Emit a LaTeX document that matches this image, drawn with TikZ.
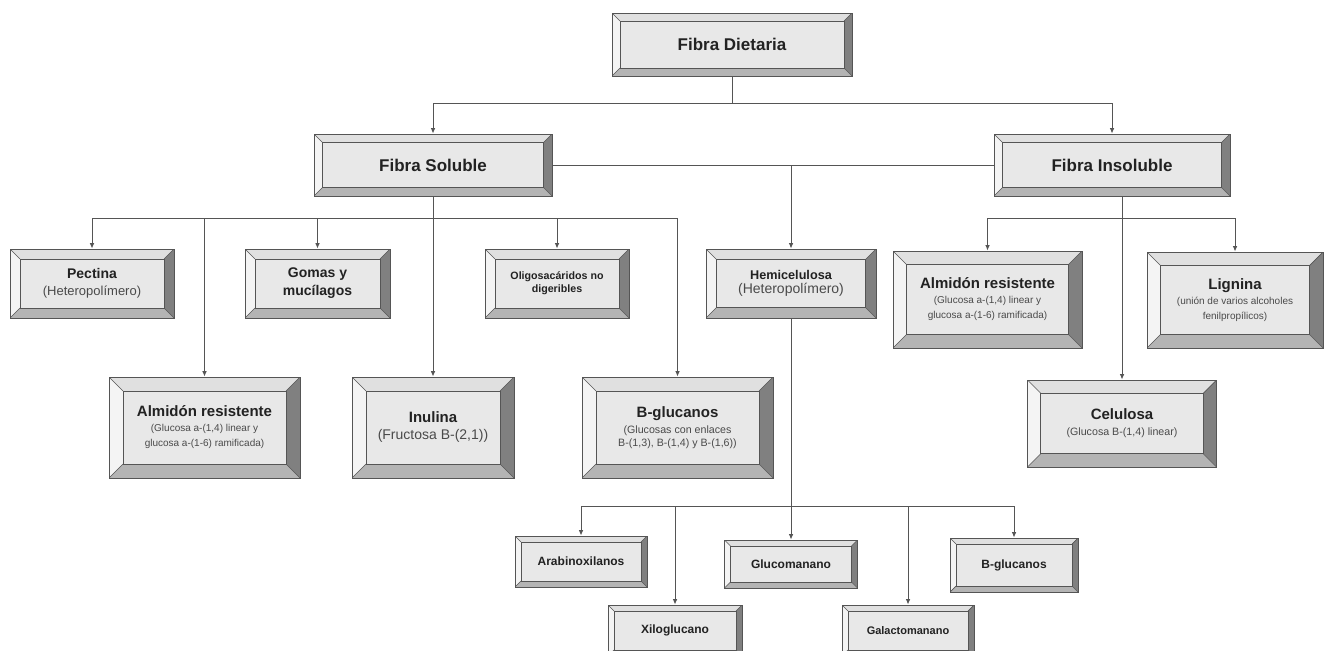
\documentclass[tikz,border=0pt]{standalone}
\usepackage{fontspec}
\setmainfont{Liberation Sans}
\usepackage{xcolor}
\usepackage{tikz}
\usetikzlibrary{arrows.meta,calc}
\definecolor{boxface}{HTML}{E8E8E8}
\definecolor{bevtop}{HTML}{E0E0E0}
\definecolor{bevleft}{HTML}{F4F4F4}
\definecolor{bevright}{HTML}{808080}
\definecolor{bevbot}{HTML}{B4B4B4}
\definecolor{edge}{HTML}{555555}
\definecolor{titlecol}{HTML}{222222}
\definecolor{notecol}{HTML}{4A4A4A}
\newcommand{\ttl}[2]{{\fontsize{#1}{#1}\selectfont\bfseries\color{titlecol}#2}}
\newcommand{\nota}[2]{{\fontsize{#1}{#1}\selectfont\color{notecol}#2}}

\begin{document}
\begin{tikzpicture}[
  x=0.75pt, y=-0.75pt, >={Latex[length=4pt,width=3.4pt]},
  conn/.style={draw=edge, line width=0.7pt},
  bw/.store in=\bevw, bw=6pt,
  wh/.style 2 args={minimum width={#1*0.75pt}, minimum height={#2*0.75pt}},
  bevel/.style={draw=edge, line width=0.7pt, fill=boxface, inner sep=0pt, align=center,
    path picture={
      \coordinate (p1) at (path picture bounding box.south west);
      \coordinate (p2) at (path picture bounding box.north east);
      \coordinate (q1) at ($(p1)+(\bevw,\bevw)$);
      \coordinate (q2) at ($(p2)-(\bevw,\bevw)$);
      \fill[bevtop] (p1|-p2) -- (p2) -- (q2) -- (q1|-q2) -- cycle;
      \fill[bevleft] (p1) -- (p1|-p2) -- (q1|-q2) -- (q1) -- cycle;
      \fill[bevright] (p2|-p1) -- (p2) -- (q2) -- (q2|-q1) -- cycle;
      \fill[bevbot] (p1) -- (p2|-p1) -- (q2|-q1) -- (q1) -- cycle;
      \draw[edge,line width=0.6pt] (q1) rectangle (q2);
      \draw[edge,line width=0.5pt] (p1) -- (q1) (p2) -- (q2) (p1|-p2) -- (q1|-q2) (p2|-p1) -- (q2|-q1);
    }},
]
\useasboundingbox (0,0) rectangle (1333,650);

% top levels
\node[bevel,wh={240}{63},bw=6pt] (dietaria) at (732,44.5) {\ttl{12.75}{Fibra Dietaria}};
\node[bevel,wh={238}{62},bw=6.5pt] (soluble) at (433,165) {\ttl{12.75}{Fibra Soluble}};
\node[bevel,wh={236}{62},bw=6.5pt] (insoluble) at (1112,165) {\ttl{12.75}{Fibra Insoluble}};

% second row
\node[bevel,wh={164}{69},bw=7.5pt,font=\fontsize{9.75}{12.75}\selectfont] (pectina) at (92,283.5)
  {\ttl{10.5}{Pectina}\\\nota{9.75}{(Heteropolímero)}};
\node[bevel,wh={145}{69},bw=7.5pt,font=\fontsize{10.5}{13.5}\selectfont] (gomas) at (317.5,283.5)
  {\ttl{10.5}{Gomas y}\\\ttl{10.5}{mucílagos}};
\node[bevel,wh={144}{69},bw=7.5pt,font=\fontsize{8}{9.75}\selectfont] (oligo) at (557,283.5)
  {\ttl{8}{Oligosacáridos no}\\\ttl{8}{digeribles}};
\node[bevel,wh={170}{69},bw=8pt,font=\fontsize{10.5}{10.5}\selectfont] (hemi) at (791,283.5)
  {\ttl{9.5}{Hemicelulosa}\\\nota{10.5}{(Heteropolímero)}};
\node[bevel,wh={189}{97},bw=10pt,font=\fontsize{7.5}{11.25}\selectfont] (almidonI) at (987.5,299.5)
  {\ttl{11.25}{Almidón resistente}\\\nota{7.5}{(Glucosa a-(1,4) linear y}\\\nota{7.5}{glucosa a-(1-6) ramificada)}};
\node[bevel,wh={176}{96},bw=10pt,font=\fontsize{7.5}{11.25}\selectfont] (lignina) at (1235,300)
  {\ttl{11.25}{Lignina}\\\nota{7.5}{(unión de varios alcoholes}\\\nota{7.5}{fenilpropílicos)}};

% third row
\node[bevel,wh={191}{101},bw=10.5pt,font=\fontsize{7.5}{11.25}\selectfont] (almidonS) at (204.5,427.5)
  {\ttl{11.25}{Almidón resistente}\\\nota{7.5}{(Glucosa a-(1,4) linear y}\\\nota{7.5}{glucosa a-(1-6) ramificada)}};
\node[bevel,wh={162}{101},bw=10.5pt,font=\fontsize{10.5}{12.75}\selectfont] (inulina) at (433,427.5)
  {\ttl{11.25}{Inulina}\\\nota{10.5}{(Fructosa B-(2,1))}};
\node[bevel,wh={191}{101},bw=10.5pt,font=\fontsize{8}{9.5}\selectfont] (bgluc) at (677.5,427.5)
  {\ttl{11.25}{B-glucanos}\\[3pt]\nota{8}{(Glucosas con enlaces}\\\nota{8}{B-(1,3), B-(1,4) y B-(1,6))}};
\node[bevel,wh={189}{87},bw=10pt,font=\fontsize{8}{12}\selectfont] (celulosa) at (1122,423.5)
  {\ttl{11.25}{Celulosa}\\\nota{8}{(Glucosa B-(1,4) linear)}};

% hemicelulosa children
\node[bevel,wh={132}{51},bw=4.5pt] (arabino) at (581,561.5) {\ttl{9}{Arabinoxilanos}};
\node[bevel,wh={134}{51},bw=4.5pt] (xilo) at (675,630.5) {\ttl{9}{Xiloglucano}};
\node[bevel,wh={133}{48},bw=4.5pt] (gluco) at (791,564) {\ttl{9}{Glucomanano}};
\node[bevel,wh={132}{51},bw=4.5pt] (galacto) at (908,630.5) {\ttl{8.25}{Galactomanano}};
\node[bevel,wh={128}{54},bw=4.5pt] (bglucH) at (1014,565) {\ttl{9}{B-glucanos}};

% buses
\coordinate (bus1) at (0,103);
\coordinate (bus2) at (0,218);
\coordinate (bus3) at (0,506);

\draw[conn,->] (dietaria.south) -- (dietaria.south |- bus1) -| (soluble.north);
\draw[conn,->] (dietaria.south |- bus1) -| (insoluble.north);
\draw[conn] (soluble.east) -- (insoluble.west);
\draw[conn,->] (soluble.east -| hemi.north) -- (hemi.north);

\draw[conn,->] (soluble.south) -- (inulina.north);
\draw[conn] (pectina.north |- bus2) -- (bgluc.north |- bus2);
\foreach \n in {pectina,almidonS,gomas,oligo,bgluc}
  \draw[conn,->] (\n.north |- bus2) -- (\n.north);

\draw[conn,->] (celulosa.north |- insoluble.south) -- (celulosa.north);
\draw[conn] (almidonI.north |- bus2) -- (lignina.north |- bus2);
\foreach \n in {almidonI,lignina}
  \draw[conn,->] (\n.north |- bus2) -- (\n.north);

\draw[conn] (hemi.south) -- (hemi.south |- bus3);
\draw[conn] (arabino.north |- bus3) -- (bglucH.north |- bus3);
\foreach \n in {arabino,xilo,gluco,galacto,bglucH}
  \draw[conn,->] (\n.north |- bus3) -- (\n.north);
\end{tikzpicture}
\end{document}
